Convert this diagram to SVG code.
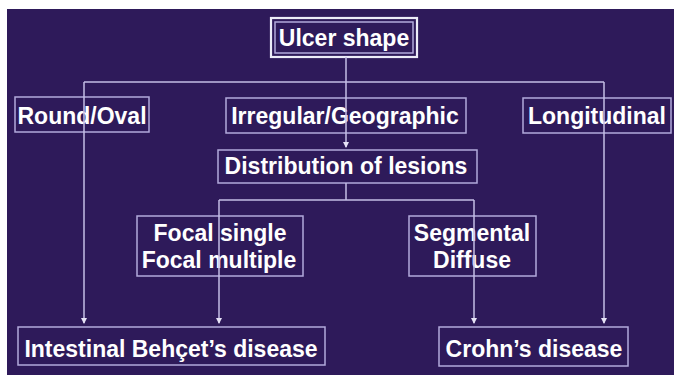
<svg xmlns="http://www.w3.org/2000/svg" width="674" height="375" viewBox="0 0 674 375">
<defs>
<style>
.box{fill:none;stroke:#b2aadc;stroke-width:1.5}
.t{font-family:"Liberation Sans",Arial,sans-serif;font-weight:bold;font-size:23px;fill:#ffffff;text-anchor:middle}
.c{fill:none;stroke:#c4bee6;stroke-width:1.5}
</style>
<marker id="ah" viewBox="0 0 6 6" refX="5" refY="3" markerWidth="6" markerHeight="6" markerUnits="userSpaceOnUse" orient="auto">
<path d="M0,0 L6,3 L0,6 Z" fill="#e6e2f6"/>
</marker>
</defs>
<rect x="0" y="0" width="674" height="375" fill="#ffffff"/>
<rect x="7" y="9" width="667" height="366" fill="#2e1a5a"/>
<g id="n-ulcer">
<rect x="271" y="18" width="146" height="39" fill="none" stroke="#ececf8" stroke-width="2.2"/>
<rect x="275" y="22" width="138" height="31" class="box"/>
<text class="t" x="344" y="46">Ulcer shape</text>
</g>
<g id="n-round">
<rect x="15" y="97" width="134" height="35" class="box"/>
<text class="t" x="82" y="124">Round/Oval</text>
</g>
<g id="n-irregular">
<rect x="226" y="98" width="240" height="35" class="box"/>
<text class="t" x="345" y="124">Irregular/Geographic</text>
</g>
<g id="n-longitudinal">
<rect x="523" y="98" width="148" height="35" class="box"/>
<text class="t" x="597" y="124">Longitudinal</text>
</g>
<g id="n-distribution">
<rect x="218" y="150" width="259" height="33" class="box"/>
<text class="t" x="346" y="174">Distribution of lesions</text>
</g>
<g id="n-focal">
<rect x="137" y="216" width="166" height="60" class="box"/>
<text class="t" x="220" y="241">Focal single</text>
<text class="t" x="219" y="268">Focal multiple</text>
</g>
<g id="n-segmental">
<rect x="409" y="216" width="127" height="60" class="box"/>
<text class="t" x="472" y="241">Segmental</text>
<text class="t" x="472" y="268">Diffuse</text>
</g>
<g id="n-behcet">
<rect x="18" y="327" width="307" height="38" class="box"/>
<text class="t" x="171" y="357">Intestinal Behçet’s disease</text>
</g>
<g id="n-crohn">
<rect x="439" y="327" width="189" height="39" class="box"/>
<text class="t" x="534" y="357">Crohn’s disease</text>
</g>
<g id="connectors">
<path class="c" d="M346,57 V147" marker-end="url(#ah)"/>
<path class="c" d="M84,82 H604"/>
<path class="c" d="M84,82 V323" marker-end="url(#ah)"/>
<path class="c" d="M604,82 V323" marker-end="url(#ah)"/>
<path class="c" d="M346,183 V200"/>
<path class="c" d="M219,200 H474"/>
<path class="c" d="M219,200 V323" marker-end="url(#ah)"/>
<path class="c" d="M474,200 V323" marker-end="url(#ah)"/>
</g>
</svg>
